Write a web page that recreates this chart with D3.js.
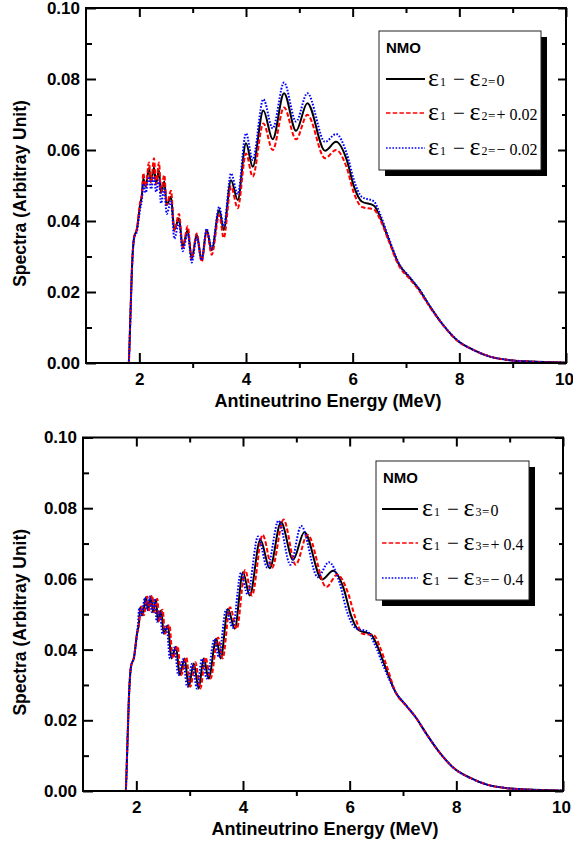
<!DOCTYPE html>
<html><head><meta charset="utf-8">
<script src="https://cdn.jsdelivr.net/npm/d3@7"></script>
<style>body{margin:0;background:#fff}svg{display:block}</style>
</head><body><svg id="c" width="573" height="847"></svg>
<script>
// ---------- data ----------
const energy = [1.00,1.80,1.83,1.862,1.90,1.956,2.013,2.05,2.074,2.119,2.181,2.219,2.275,2.313,2.369,2.406,2.468,2.513,2.594,2.656,2.744,2.813,2.907,2.982,3.076,3.169,3.263,3.357,3.499,3.582,3.719,3.845,4.000,4.126,4.325,4.501,4.713,4.938,5.150,5.482,5.688,5.889,6.025,6.17,6.40,6.513,6.668,6.856,7.075,7.231,7.450,7.670,7.951,8.262,8.575,8.950,9.325,10.0];
const spectrumNMO = [0,0,0.0120,0.0268,0.0352,0.0378,0.0445,0.0475,0.0520,0.0497,0.0549,0.0511,0.0551,0.0506,0.0542,0.0479,0.0511,0.0445,0.0468,0.0375,0.0408,0.0328,0.0375,0.0295,0.0361,0.0290,0.0375,0.0318,0.0431,0.0375,0.0515,0.0459,0.0619,0.0553,0.0711,0.0630,0.0760,0.0654,0.0732,0.0598,0.0623,0.0572,0.0497,0.0455,0.0443,0.0412,0.0351,0.0281,0.0239,0.0210,0.0159,0.0112,0.0065,0.0037,0.0018,0.0008,0.0004,0.0001];
const spectrumE12plus = [0,0,0.0120,0.0268,0.0352,0.0380,0.0450,0.0480,0.0535,0.0497,0.0565,0.0508,0.0577,0.0503,0.0565,0.0480,0.0530,0.0445,0.0485,0.0372,0.0420,0.0325,0.0385,0.0292,0.0365,0.0285,0.0372,0.0305,0.0417,0.0352,0.0497,0.0436,0.0590,0.0525,0.0675,0.0600,0.0720,0.0630,0.0699,0.0577,0.0600,0.0550,0.0478,0.0440,0.0432,0.0405,0.0347,0.0277,0.0236,0.0207,0.0157,0.0111,0.0064,0.0037,0.0018,0.0008,0.0004,0.0001];
const spectrumE12minus = [0,0,0.0118,0.0265,0.0350,0.0372,0.0432,0.0462,0.0505,0.0480,0.0525,0.0490,0.0525,0.0482,0.0515,0.0450,0.0490,0.0420,0.0455,0.0350,0.0395,0.0315,0.0365,0.0283,0.0355,0.0290,0.0378,0.0322,0.0440,0.0385,0.0534,0.0476,0.0647,0.0572,0.0743,0.0661,0.0790,0.0680,0.0760,0.0623,0.0645,0.0590,0.0515,0.0468,0.0455,0.0420,0.0356,0.0284,0.0241,0.0212,0.0160,0.0113,0.0066,0.0037,0.0018,0.0008,0.0004,0.0001];
const energyE13plus = [1.00,1.80,1.83,1.862,1.90,1.956,2.013,2.05,2.094,2.140,2.203,2.241,2.298,2.336,2.393,2.430,2.493,2.538,2.620,2.683,2.771,2.841,2.936,3.012,3.107,3.201,3.296,3.391,3.534,3.618,3.756,3.883,4.040,4.167,4.368,4.546,4.760,4.987,5.210,5.562,5.768,5.969,6.105,6.24,6.46,6.56,6.70,6.856,7.075,7.231,7.450,7.670,7.951,8.262,8.575,8.950,9.325,10.0];
const spectrumE13plus = [0,0,0.0120,0.0268,0.0352,0.0378,0.0445,0.0475,0.0522,0.0497,0.0550,0.0511,0.0553,0.0506,0.0544,0.0479,0.0513,0.0445,0.0470,0.0375,0.0410,0.0328,0.0378,0.0295,0.0364,0.0290,0.0378,0.0318,0.0434,0.0375,0.0520,0.0459,0.0625,0.0553,0.0725,0.0632,0.0768,0.0640,0.0725,0.0577,0.0612,0.0560,0.0490,0.0445,0.0440,0.0410,0.0351,0.0281,0.0239,0.0210,0.0159,0.0112,0.0065,0.0037,0.0018,0.0008,0.0004,0.0001];
const energyE13minus = [1.00,1.80,1.83,1.862,1.90,1.956,2.013,2.03,2.054,2.098,2.159,2.197,2.252,2.290,2.345,2.382,2.443,2.488,2.568,2.629,2.717,2.785,2.878,2.952,3.045,3.137,3.230,3.323,3.464,3.546,3.682,3.807,3.960,4.085,4.282,4.456,4.666,4.889,5.090,5.402,5.608,5.809,5.945,6.10,6.34,6.47,6.64,6.856,7.075,7.231,7.450,7.670,7.951,8.262,8.575,8.950,9.325,10.0];
const spectrumE13minus = [0,0,0.0120,0.0268,0.0352,0.0378,0.0445,0.0470,0.0518,0.0497,0.0547,0.0511,0.0550,0.0506,0.0540,0.0479,0.0509,0.0445,0.0466,0.0375,0.0406,0.0328,0.0373,0.0295,0.0360,0.0290,0.0374,0.0318,0.0430,0.0378,0.0513,0.0462,0.0617,0.0556,0.0720,0.0632,0.0765,0.0640,0.0750,0.0605,0.0647,0.0590,0.0510,0.0462,0.0450,0.0415,0.0351,0.0281,0.0239,0.0210,0.0159,0.0112,0.0065,0.0037,0.0018,0.0008,0.0004,0.0001];

const xMajorTicks = [2,4,6,8,10];
const xMinorTicks = [3,5,7,9];
const yMajorTicks = [0,0.02,0.04,0.06,0.08,0.10];
const yMinorTicks = [0.01,0.03,0.05,0.07,0.09];
const xTitle = "Antineutrino Energy (MeV)";
const yTitle = "Spectra (Arbitray Unit)";
const legendTitle = "NMO";
const topLabelPair = ["1","2"];
const bottomLabelPair = ["1","3"];
const topLabelValues = ["0","+ 0.02","\u2212 0.02"];
const bottomLabelValues = ["0","+ 0.4","\u2212 0.4"];

// ---------- styles ----------
const seriesStyle = [
  {color:"#000000", dash:null, width:2},
  {color:"#ff0000", dash:"4.5,2.2", width:2},
  {color:"#0000ff", dash:"1.6,1.6", width:2}
];
const sans = "'Liberation Sans', Arial, sans-serif";
const serif = "'Liberation Serif', 'Times New Roman', serif";

const svg = d3.select("#c");

function drawPanel(id, box, series, leg, pair, values) {
  const g = svg.append("g");
  const x = d3.scaleLinear().domain([1,10]).range([box.left, box.right]);
  const y = d3.scaleLinear().domain([0,0.10]).range([box.bottom, box.top]);

  g.append("clipPath").attr("id","clip"+id).append("rect")
    .attr("x",box.left).attr("y",box.top-2).attr("width",box.right-box.left).attr("height",box.bottom-box.top+2);

  const line = d3.line().x(d=>x(d[0])).y(d=>y(d[1])).curve(d3.curveMonotoneX);
  const pg = g.append("g").attr("clip-path","url(#clip"+id+")");
  series.forEach((s,i)=>{
    const st = seriesStyle[i];
    pg.append("path").datum(s.x.map((v,k)=>[v,s.y[k]]))
      .attr("d",line).attr("fill","none").attr("stroke",st.color)
      .attr("stroke-width",st.width).attr("stroke-dasharray",st.dash)
      .attr("stroke-linejoin","round");
  });

  const style = sel => { sel.select(".domain").remove(); sel.selectAll("line").attr("stroke","#000").attr("stroke-width",2); sel.selectAll("text").attr("font-family",sans).attr("font-weight","bold").attr("font-size",17).attr("fill","#000"); };

  // bottom
  const bx = g.append("g").attr("transform",`translate(0,${box.bottom})`)
    .call(d3.axisBottom(x).tickValues(xMajorTicks).tickSizeInner(-10).tickSizeOuter(0).tickPadding(10).tickFormat(d3.format("d"))).call(style);
  bx.selectAll(".tick text").filter(d=>d===10).attr("dx",-2);
  g.append("g").attr("transform",`translate(0,${box.bottom})`)
    .call(d3.axisBottom(x).tickValues(xMinorTicks).tickSize(5).tickFormat("")).call(style);
  // top
  g.append("g").attr("transform",`translate(0,${box.top})`)
    .call(d3.axisTop(x).tickValues(xMajorTicks).tickSize(-9).tickFormat("")).call(style);
  g.append("g").attr("transform",`translate(0,${box.top})`)
    .call(d3.axisTop(x).tickValues(xMinorTicks).tickSize(-5).tickFormat("")).call(style);
  // left
  g.append("g").attr("transform",`translate(${box.left},0)`)
    .call(d3.axisLeft(y).tickValues(yMajorTicks).tickSizeInner(-10).tickSizeOuter(0).tickPadding(6).tickFormat(d3.format(".2f"))).call(style);
  g.append("g").attr("transform",`translate(${box.left},0)`)
    .call(d3.axisLeft(y).tickValues(yMinorTicks).tickSize(-6).tickFormat("")).call(style);
  // right
  g.append("g").attr("transform",`translate(${box.right},0)`)
    .call(d3.axisRight(y).tickValues(yMajorTicks).tickSize(-8).tickFormat("")).call(style);
  g.append("g").attr("transform",`translate(${box.right},0)`)
    .call(d3.axisRight(y).tickValues(yMinorTicks).tickSize(-4).tickFormat("")).call(style);

  // frame
  g.append("rect").attr("x",box.left).attr("y",box.top).attr("width",box.right-box.left).attr("height",box.bottom-box.top)
    .attr("fill","none").attr("stroke","#000").attr("stroke-width",2);

  // titles
  g.append("text").attr("x",(box.left+box.right)/2 + 2).attr("y",box.bottom+44)
    .attr("text-anchor","middle").attr("font-family",sans).attr("font-weight","bold").attr("font-size",18).text(xTitle);
  g.append("text").attr("transform",`translate(26,${(box.top+box.bottom)/2+8}) rotate(-90)`)
    .attr("text-anchor","middle").attr("font-family",sans).attr("font-weight","bold").attr("font-size",17.5).text(yTitle);

  // legend
  const lg = g.append("g");
  lg.append("rect").attr("x",leg.x+6).attr("y",leg.y+6).attr("width",leg.w).attr("height",leg.h).attr("fill","#000");
  lg.append("rect").attr("x",leg.x).attr("y",leg.y).attr("width",leg.w).attr("height",leg.h).attr("fill","#fff").attr("stroke","#222").attr("stroke-width",1);
  lg.append("text").attr("x",leg.x+7).attr("y",leg.y+22).attr("font-family",sans).attr("font-weight","bold").attr("font-size",15).text(legendTitle);
  leg.rows.forEach((ry,i)=>{
    const st = seriesStyle[i];
    lg.append("line").attr("x1",leg.x+leg.l0).attr("x2",leg.x+leg.l1).attr("y1",ry).attr("y2",ry)
      .attr("stroke",st.color).attr("stroke-width",st.dash?1.6:2).attr("stroke-dasharray",st.dash);
    const tx = leg.x+leg.t;
    const t = lg.append("text").attr("y",ry+6.5).attr("font-family",serif).attr("fill","#000");
    t.append("tspan").attr("x",tx).attr("font-size",26).text("\u03b5");
    t.append("tspan").attr("x",tx+12).attr("font-size",12).text(pair[0]);
    t.append("tspan").attr("x",tx+25).attr("font-size",21).text("\u2212");
    t.append("tspan").attr("x",tx+41.5).attr("font-size",26).text("\u03b5");
    t.append("tspan").attr("x",tx+53.5).attr("font-size",12).text(pair[1]);
    t.append("tspan").attr("x",tx+60).attr("font-size",13).text("=");
    t.append("tspan").attr("x",tx+68.5).attr("font-size",16).text(values[i]);
  });
}

drawPanel("a", {left:86,right:566,top:8,bottom:363},
  [{x:energy,y:spectrumNMO},{x:energy,y:spectrumE12plus},{x:energy,y:spectrumE12minus}],
  {x:379,y:31,w:162,h:139,l0:7,l1:46,t:49,rows:[79,113,148]}, topLabelPair, topLabelValues);

drawPanel("b", {left:83,right:563,top:437.5,bottom:791},
  [{x:energy,y:spectrumNMO},{x:energyE13plus,y:spectrumE13plus},{x:energyE13minus,y:spectrumE13minus}],
  {x:376,y:461,w:153,h:139,l0:6,l1:42,t:46,rows:[509,543,578]}, bottomLabelPair, bottomLabelValues);
</script></body></html>
